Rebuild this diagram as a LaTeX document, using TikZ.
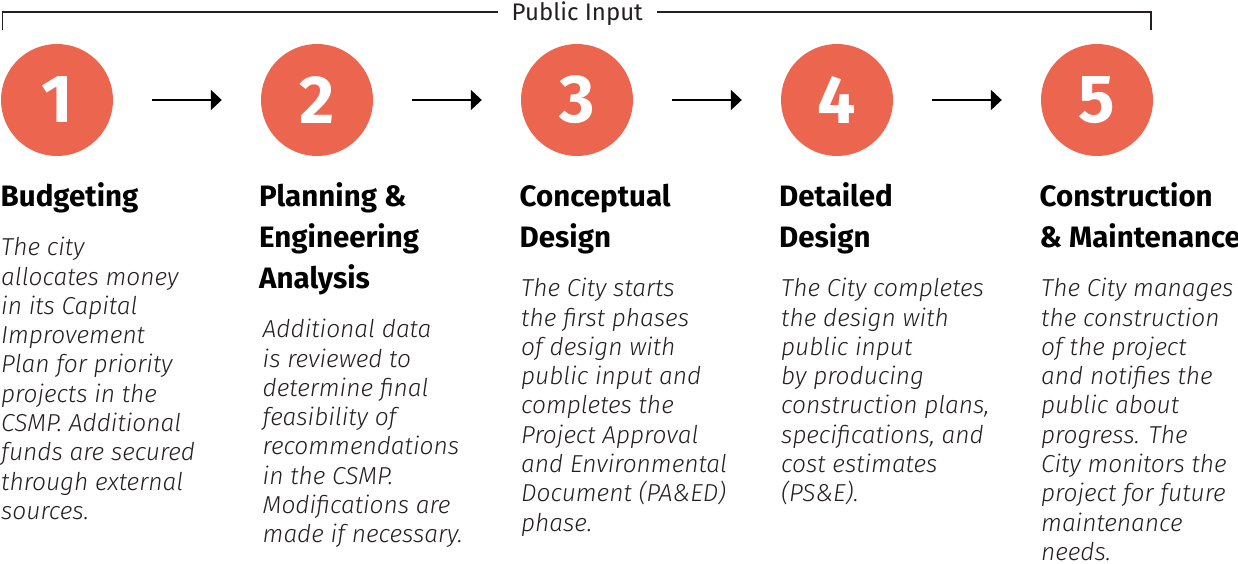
\documentclass[tikz,border=0pt]{standalone}
\usepackage{fontspec}
\setmainfont{Fira Sans}
\newfontfamily\bodyfont{Fira Sans Light}[ItalicFont={Fira Sans Light Italic}]
\usetikzlibrary{arrows.meta}
\definecolor{coral}{RGB}{235,101,79}
\definecolor{ink}{RGB}{35,31,32}
\begin{document}
% note: for multi-line nodes the base anchor sits on the LAST line's baseline
\begin{tikzpicture}[x=1pt,y=-1pt,
  stepcirc/.style={circle,fill=coral,minimum size=112pt,inner sep=0pt,text=white,
    font=\fontsize{68}{68}\selectfont\bfseries},
  head/.style={anchor=base west,inner sep=0pt,align=left,text=black,
    font=\fontsize{29.5}{41}\selectfont\bfseries},
  body/.style={anchor=base west,inner sep=0pt,align=left,text=ink,
    font=\bodyfont\fontsize{24.5}{29.3}\selectfont\itshape},
  flow/.style={-{Triangle[length=11pt,width=20pt]},line width=2.2pt},
  bracket/.style={line width=1.3pt,ink}]
\useasboundingbox (0,0) rectangle (1238,564);

% bracket
\node[anchor=base,inner xsep=13.5pt,inner ysep=0pt,text=ink,
  font=\fontsize{24}{24}\selectfont] (pi) at (577.3,20.3) {Public Input};
\coordinate (ly) at (0,12);
\coordinate (bl) at (2.7,30);
\coordinate (br) at (1151,30);
\draw[bracket] (bl) |- (pi.west |- ly);
\draw[bracket] (br) |- (pi.east |- ly);

% circles
\node[stepcirc] (c1) at (57,100) {1};
\node[stepcirc] (c2) at (317,100) {2};
\node[stepcirc] (c3) at (577,100) {3};
\node[stepcirc] (c4) at (837,100) {4};
\node[stepcirc] (c5) at (1097,100) {5};

% arrows
\draw[flow] ([xshift=39pt]c1.east) -- ([xshift=-39pt]c2.west);
\draw[flow] ([xshift=39pt]c2.east) -- ([xshift=-39pt]c3.west);
\draw[flow] ([xshift=39pt]c3.east) -- ([xshift=-39pt]c4.west);
\draw[flow] ([xshift=39pt]c4.east) -- ([xshift=-39pt]c5.west);

% headings (y = baseline of last line)
\node[head] (h1) at (0.5,206.2) {Budgeting};
\node[head] (h2) at (259,288.2) {Planning \&\\Engineering\\Analysis};
\node[head] (h3) at (519.5,247.2) {Conceptual\\Design};
\node[head] (h4) at (779,247.2) {Detailed\\Design};
\node[head] (h5) at (1039.5,247.2) {Construction\\\& Maintenance};

% bodies (y = baseline of last line)
\node[body] (b1) at (1,519.4) {The city\\allocates money\\in its Capital\\Improvement\\Plan for priority\\projects in the\\CSMP. Additional\\funds are secured\\through external\\sources.};
\node[body] (b2) at (262.5,542.8) {Additional data\\is reviewed to\\determine final\\feasibility of\\recommendations\\in the CSMP.\\Modifications are\\made if necessary.};
\node[body] (b3) at (521,531.1) {The City starts\\the first phases\\of design with\\public input and\\completes the\\Project Approval\\and Environmental\\Document (PA\&ED)\\phase.};
\node[body] (b4) at (781,501.8) {The City completes\\the design with\\public input\\by producing\\construction plans,\\specifications, and\\cost estimates\\(PS\&E).};
\node[body] (b5) at (1041,560.4) {The City manages\\the construction\\of the project\\and notifies the\\public about\\progress. The\\City monitors the\\project for future\\maintenance\\needs.};
\end{tikzpicture}
\end{document}
